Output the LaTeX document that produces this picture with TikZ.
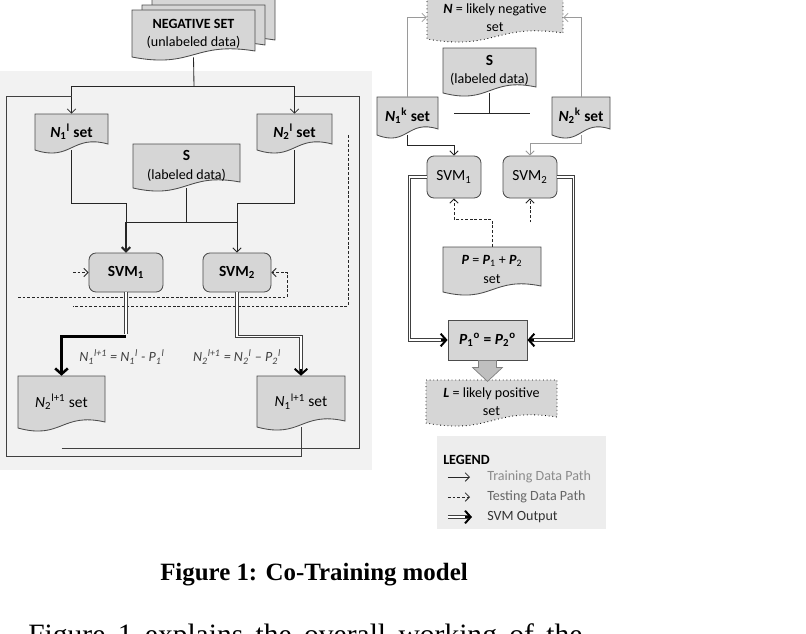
\documentclass[tikz,border=0pt]{standalone}
\usepackage{fontspec}
\setmainfont{Carlito}
\newfontfamily\capfont{Liberation Serif}
\usetikzlibrary{arrows.meta}
\definecolor{panelgray}{HTML}{F2F2F2}
\definecolor{boxgray}{HTML}{D6D6D6}
\definecolor{legendgray}{HTML}{EDEDED}
\definecolor{arrowgray}{HTML}{BFBFBF}
\definecolor{linegray}{HTML}{9A9A9A}
\newcommand{\ttl}{\fontsize{11}{13}\selectfont\bfseries}
\newcommand{\Nsub}[2]{\textit{N}\textsubscript{#1}\textsuperscript{#2}}
\newcommand{\Psub}[2]{\textit{P}\textsubscript{#1}\textsuperscript{#2}}
\newcommand{\doc}[7][]{%
  \filldraw[docshape,#1] (#3,#4) -- (#5,#4) -- (#5,#6-6) .. controls ({(#3+#5)/2},#6-16) and ({(#3+#5)/2},#6+12) .. (#3,#6) -- cycle;
  \node[doclabel,minimum width={(#5-#3)*0.025cm},minimum height={(#6-#4)*0.025cm}] (#2) at ({(#3+#5)/2},{(#4+#6)/2}) {#7};}
\tikzset{
  docshape/.style={fill=boxgray,draw=black!70,line width=0.6pt},
  doclabel/.style={inner sep=0pt,align=center,font=\fontsize{10}{13}\selectfont},
  svmbox/.style={rounded corners=5pt,fill=boxgray,draw=black!70,line width=0.6pt,minimum width=1.85cm,minimum height=0.975cm,font=\ttl},
  plain/.style={draw=black!85,line width=0.6pt},
  train/.style={plain,-{Straight Barb[length=3pt,width=6pt]}},
  trainbold/.style={train,line width=1.3pt},
  testline/.style={plain,dash pattern=on 2pt off 1.3pt},
  testpath/.style={testline,-{Straight Barb[length=3pt,width=6pt]}},
  svmout/.style={draw=black!75,line width=0.6pt,double=white,double distance=1.3pt,shorten >=2pt},
  svmbold/.style={draw=black,line width=1.8pt,-{Straight Barb[length=4pt,width=9pt]}},
  svmtip/.style={draw=black,line width=1.4pt,-{Straight Barb[length=4pt,width=9pt]}},
  loopline/.style={draw=black!75,line width=0.7pt},
  eqlabel/.style={font=\fontsize{10}{12}\selectfont\itshape,text=black!75},
  legtext/.style={anchor=west,inner sep=0pt,font=\fontsize{10}{12}\selectfont}
}
\begin{document}
\begin{tikzpicture}[x=0.025cm,y=-0.025cm]
  \useasboundingbox (0,0) rectangle (806,633);
  \fill[panelgray] (0,71) rectangle (372,470);
  % left: co-training loop
  \doc{negc}{152}{-4}{275}{46}{}
  \doc{negb}{142}{5}{265}{51}{}
  \doc{neg}{132}{10}{255}{57}{\textbf{NEGATIVE SET}\\(unlabeled data)}
  \doc{n1l}{35}{114}{108}{150}{\ttl\Nsub{1}{l} set}
  \doc{n2l}{257}{114}{332}{150}{\ttl\Nsub{2}{l} set}
  \doc{sl}{133}{144}{240}{188}{{\ttl S}\\(labeled data)}
  \node[svmbox] (svm1) at (126,272.5) {SVM\textsubscript{1}};
  \node[svmbox,minimum width=1.7cm] (svm2) at (237,272.5) {SVM\textsubscript{2}};
  \doc{n2l1}{18}{376}{105}{428}{\fontsize{11}{13}\selectfont\Nsub{2}{l+1} set}
  \doc{n1l1}{257}{376}{345}{427}{\fontsize{11}{13}\selectfont\Nsub{1}{l+1} set}
  \node[eqlabel] (eq1) at (122,357) {\Nsub{1}{l+1} = \Nsub{1}{l} - \Psub{1}{l}};
  \node[eqlabel] (eq2) at (237,357) {\Nsub{2}{l+1} = \Nsub{2}{l} -- \Psub{2}{l}};
  \coordinate (split) at (194,86);
  \coordinate (topL) at (6,96);
  \coordinate (topR) at (359,96);
  \draw[plain] (neg.south) -- (split);
  \draw[train] (split) -| (n1l.north);
  \draw[train] (split) -| (n2l.north);
  \draw[plain] (sl.south) -- ++(0,34) coordinate (sjoin);
  \draw[plain] (svm1.north |- sjoin) -- (svm2.north |- sjoin);
  \draw[train] (n1l.south) -- ++(0,53) -| (svm1.north);
  \draw[trainbold] (svm1.north |- sjoin) -- (svm1.north);
  \draw[train] (n2l.south) -- ++(0,53) -| (svm2.north);
  \draw[testline] (348,135) |- (73,306);
  \draw[testpath] (73,272.5) -- (svm1.west);
  \draw[testpath] (18,297) -- (287,297) |- (svm2.east);
  \draw[svmout] (svm1.south) -- ++(0,44) coordinate (out1);
  \draw[svmbold] (out1) -| (n2l1.north);
  \draw[svmout] (svm2.south) -- ++(0,44) -| (n1l1.north);
  \draw[svmtip] (n1l1.north) ++(0,-7) -- (n1l1.north);
  \draw[loopline] (n1l1.south) |- (6,456) -- (topL) -- (n1l.north |- topL);
  \draw[loopline] (n2l1.south |- 0,448) -- (359,448) -- (topR) -- (n2l.north |- topR);
  % right: testing
  \doc[dotted,draw=black]{nbox}{427}{-4}{563}{39}{\textbf{\textit{N}} = likely negative\\set}
  \doc{s2}{443}{48}{536}{93}{{\ttl S}\\(labeled data)}
  \doc{n1k}{377}{97}{438}{135}{\ttl\Nsub{1}{k} set}
  \doc{n2k}{552}{97}{610}{135}{\ttl\Nsub{2}{k} set}
  \node[svmbox,minimum width=1.35cm,minimum height=1.05cm,font=\fontsize{11}{13}\selectfont] (svm1r) at (454,177) {SVM\textsubscript{1}};
  \node[svmbox,minimum width=1.35cm,minimum height=1.05cm,font=\fontsize{11}{13}\selectfont] (svm2r) at (530,177) {SVM\textsubscript{2}};
  \doc{psum}{443}{247}{541}{292}{\textbf{\textit{P}} = \textbf{\textit{P}}\textsubscript{1} + \textbf{\textit{P}}\textsubscript{2}\\set}
  \node[fill=boxgray,draw=black!70,line width=0.6pt,minimum width=1.975cm,minimum height=1cm,font=\fontsize{11}{13}\selectfont\bfseries] (pbox) at (487.5,340) {\Psub{1}{o} = \Psub{2}{o}};
  \doc[dotted,draw=black]{lbox}{426}{380}{557}{423}{\textbf{\textit{L}} = likely positive\\set}
  \draw[train,draw=linegray] (n1k.north) |- (nbox.west);
  \draw[train,draw=linegray] (n2k.north) |- (nbox.east);
  \draw[plain] (s2.south) -- ++(0,20) coordinate (s2j);
  \draw[plain] (svm1r.north |- s2j) -- (svm2r.north |- s2j);
  \draw[train] (n1k.south) -- ++(0,10) -| (svm1r.north);
  \draw[train,draw=linegray] (n2k.south) -- ++(0,8) -| (svm2r.north);
  \draw[testpath] (psum.north) -- ++(0,-27) -| (svm1r.south);
  \draw[testpath] (svm2r.south) ++(0,24) -- (svm2r.south);
  \draw[svmout] (svm1r.west) -- ++(-17,0) |- (pbox.west);
  \draw[svmout] (svm2r.east) -- ++(16,0) |- (pbox.east);
  \draw[svmtip] (pbox.west) ++(-7,0) -- (pbox.west);
  \draw[svmtip] (pbox.east) ++(7,0) -- (pbox.east);
  \filldraw[fill=arrowgray,draw=black!50,line width=0.5pt] (pbox.south) ++(-9,0) -- ++(0,7) -- ++(-6,0) -- ++(15,14) -- ++(15,-14) -- ++(-6,0) -- ++(0,-7) -- cycle;
  % legend
  \fill[legendgray] (437,436) rectangle (606,529);
  \node[legtext,font=\fontsize{10}{12}\selectfont\bfseries] (legend) at (443,460) {LEGEND};
  \node[legtext,text=black!45] (ltrain) at (487,477) {Training Data Path};
  \node[legtext,text=black!60] (ltest) at (487,497) {Testing Data Path};
  \node[legtext,text=black!80] (lsvm) at (487,517) {SVM Output};
  \draw[train] ([xshift=-0.975cm]ltrain.west) -- ([xshift=-0.425cm]ltrain.west);
  \draw[testpath] ([xshift=-0.975cm]ltest.west) -- ([xshift=-0.425cm]ltest.west);
  \draw[svmout] ([xshift=-0.975cm]lsvm.west) -- ([xshift=-0.4cm]lsvm.west);
  \draw[svmtip] ([xshift=-0.55cm]lsvm.west) -- ([xshift=-0.375cm]lsvm.west);
  % caption
  \node[font=\capfont\bfseries\fontsize{17.7}{20}\selectfont] (caption) at (314,575) {Figure 1: Co-Training model};
  \node[anchor=north west,inner sep=0pt,font=\capfont\fontsize{21}{24}\selectfont] (body) at (28,623) {\makebox[13.85cm][s]{Figure 1 explains the overall working of the}};
\end{tikzpicture}
\end{document}
